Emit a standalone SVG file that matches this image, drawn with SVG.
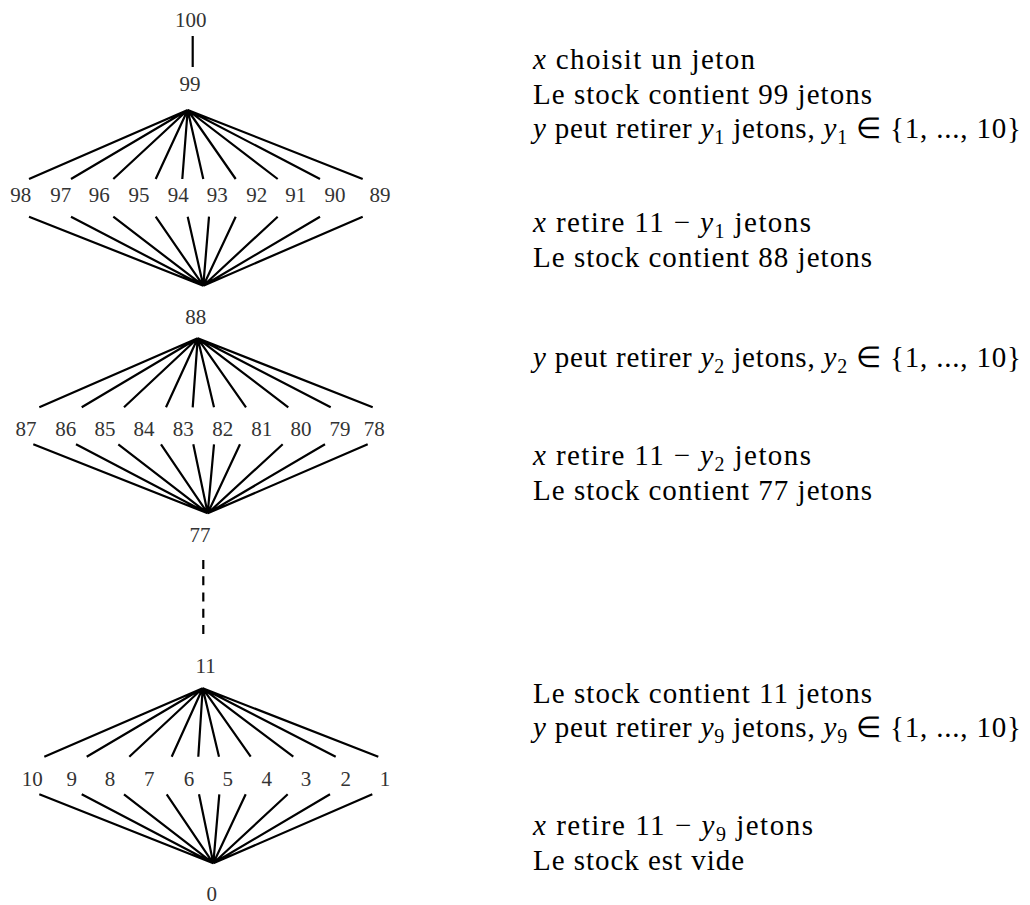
<svg xmlns="http://www.w3.org/2000/svg" width="1030" height="905" viewBox="0 0 1030 905">
<style>
.lbl{font-size:21px;fill:#333;text-anchor:middle}
.txt{font-size:29px;fill:#000}
.it{font-style:italic}
.e{stroke:#000;stroke-width:2.2;fill:none;stroke-linecap:butt}
.d{stroke-dasharray:9 7.25}
</style>
<rect width="1030" height="905" fill="#fff"/>
<g id="connectors" class="e">
<line x1="192.7" y1="36" x2="192.7" y2="67"/>
<path d="M187.7 110L29 179M187.7 110L71 179M187.7 110L113.3 179M187.7 110L155.7 179M187.7 110L182.3 179M187.7 110L203.3 179M187.7 110L235.7 179M187.7 110L277.7 179M187.7 110L320 179M187.7 110L362.7 179"/>
<path d="M29 216.7L203.3 285.7M71 216.7L203.3 285.7M113.3 216.7L203.3 285.7M155.7 216.7L203.3 285.7M187.7 216.7L203.3 285.7M209 216.7L203.3 285.7M235.7 216.7L203.3 285.7M277.7 216.7L203.3 285.7M320 216.7L203.3 285.7M362.7 216.7L203.3 285.7"/>
<path d="M197.7 338.3L39.3 407.3M197.7 338.3L81.7 407.3M197.7 338.3L124 407.3M197.7 338.3L166 407.3M197.7 338.3L192.7 407.3M197.7 338.3L214 407.3M197.7 338.3L246 407.3M197.7 338.3L288.3 407.3M197.7 338.3L330.7 407.3M197.7 338.3L372.7 407.3"/>
<path d="M33.3 444.3L207.7 513.3M76 444.3L207.7 513.3M118.3 444.3L207.7 513.3M161 444.3L207.7 513.3M193.3 444.3L207.7 513.3M214 444.3L207.7 513.3M240 444.3L207.7 513.3M282.7 444.3L207.7 513.3M325 444.3L207.7 513.3M367.7 444.3L207.7 513.3"/>
<line class="d" x1="203.3" y1="560" x2="203.3" y2="634"/>
<path d="M202.7 688.3L44.3 756.7M202.7 688.3L86.7 756.7M202.7 688.3L129.3 756.7M202.7 688.3L171.7 756.7M202.7 688.3L198.3 756.7M202.7 688.3L219 756.7M202.7 688.3L250.7 756.7M202.7 688.3L293.3 756.7M202.7 688.3L335.7 756.7M202.7 688.3L378.3 756.7"/>
<path d="M39.3 794.3L213.3 863.3M81.7 794.3L213.3 863.3M124 794.3L213.3 863.3M166.7 794.3L213.3 863.3M199 794.3L213.3 863.3M219.3 794.3L213.3 863.3M245.7 794.3L213.3 863.3M287.7 794.3L213.3 863.3M330 794.3L213.3 863.3M372.3 794.3L213.3 863.3"/>
</g>
<g class="lbl" font-family="Liberation Serif, Times New Roman, serif">
<g id="n100"><text x="190.7" y="27">100</text></g>
<g id="n99"><text x="190" y="91">99</text></g>
<g id="n98"><text x="20.7" y="202">98</text></g>
<g id="n97"><text x="60.7" y="202">97</text></g>
<g id="n96"><text x="99.3" y="202">96</text></g>
<g id="n95"><text x="139" y="202">95</text></g>
<g id="n94"><text x="178.3" y="202">94</text></g>
<g id="n93"><text x="217.3" y="202">93</text></g>
<g id="n92"><text x="256.7" y="202">92</text></g>
<g id="n91"><text x="295.7" y="202">91</text></g>
<g id="n90"><text x="335" y="202">90</text></g>
<g id="n89"><text x="380" y="202">89</text></g>
<g id="n88"><text x="195.7" y="324">88</text></g>
<g id="n87"><text x="26" y="435.7">87</text></g>
<g id="n86"><text x="65.7" y="435.7">86</text></g>
<g id="n85"><text x="105" y="435.7">85</text></g>
<g id="n84"><text x="144" y="435.7">84</text></g>
<g id="n83"><text x="183.3" y="435.7">83</text></g>
<g id="n82"><text x="222.7" y="435.7">82</text></g>
<g id="n81"><text x="261.7" y="435.7">81</text></g>
<g id="n80"><text x="301" y="435.7">80</text></g>
<g id="n79"><text x="340" y="435.7">79</text></g>
<g id="n78"><text x="374.3" y="435.7">78</text></g>
<g id="n77"><text x="200" y="541.7">77</text></g>
<g id="n11"><text x="205.7" y="673.3">11</text></g>
<g id="n10"><text x="32.3" y="785.7">10</text></g>
<g id="n9"><text x="71.7" y="785.7">9</text></g>
<g id="n8"><text x="110" y="785.7">8</text></g>
<g id="n7"><text x="149.3" y="785.7">7</text></g>
<g id="n6"><text x="189" y="785.7">6</text></g>
<g id="n5"><text x="227.7" y="785.7">5</text></g>
<g id="n4"><text x="266.7" y="785.7">4</text></g>
<g id="n3"><text x="306" y="785.7">3</text></g>
<g id="n2"><text x="345.7" y="785.7">2</text></g>
<g id="n1"><text x="385" y="785.7">1</text></g>
<g id="n0"><text x="211.7" y="900.7">0</text></g>
</g>
<g class="txt" font-family="Liberation Serif, Times New Roman, serif">
<g id="t1">
<text x="533" y="69" textLength="222" lengthAdjust="spacing"><tspan class="it">x</tspan> choisit un jeton</text>
<text x="533" y="104" textLength="339" lengthAdjust="spacing">Le stock contient 99 jetons</text>
<text x="533" y="138" textLength="488" lengthAdjust="spacing"><tspan class="it">y</tspan> peut retirer <tspan class="it">y</tspan><tspan font-size="20" dy="6">1</tspan><tspan dy="-6"> jetons, </tspan><tspan class="it">y</tspan><tspan font-size="20" dy="6">1</tspan><tspan dy="-6"> ∈ {1, ..., 10}</tspan></text>
</g>
<g id="t2">
<text x="533" y="232" textLength="278" lengthAdjust="spacing"><tspan class="it">x</tspan> retire 11 − <tspan class="it">y</tspan><tspan font-size="20" dy="6">1</tspan><tspan dy="-6"> jetons</tspan></text>
<text x="533" y="267" textLength="339" lengthAdjust="spacing">Le stock contient 88 jetons</text>
</g>
<g id="t3">
<text x="533" y="367" textLength="488" lengthAdjust="spacing"><tspan class="it">y</tspan> peut retirer <tspan class="it">y</tspan><tspan font-size="20" dy="6">2</tspan><tspan dy="-6"> jetons, </tspan><tspan class="it">y</tspan><tspan font-size="20" dy="6">2</tspan><tspan dy="-6"> ∈ {1, ..., 10}</tspan></text>
</g>
<g id="t4">
<text x="533" y="465" textLength="278" lengthAdjust="spacing"><tspan class="it">x</tspan> retire 11 − <tspan class="it">y</tspan><tspan font-size="20" dy="6">2</tspan><tspan dy="-6"> jetons</tspan></text>
<text x="533" y="500" textLength="339" lengthAdjust="spacing">Le stock contient 77 jetons</text>
</g>
<g id="t5">
<text x="533" y="703" textLength="339" lengthAdjust="spacing">Le stock contient 11 jetons</text>
<text x="533" y="737" textLength="488" lengthAdjust="spacing"><tspan class="it">y</tspan> peut retirer <tspan class="it">y</tspan><tspan font-size="20" dy="6">9</tspan><tspan dy="-6"> jetons, </tspan><tspan class="it">y</tspan><tspan font-size="20" dy="6">9</tspan><tspan dy="-6"> ∈ {1, ..., 10}</tspan></text>
</g>
<g id="t6">
<text x="533" y="835" textLength="280" lengthAdjust="spacing"><tspan class="it">x</tspan> retire 11 − <tspan class="it">y</tspan><tspan font-size="20" dy="6">9</tspan><tspan dy="-6"> jetons</tspan></text>
<text x="533" y="870" textLength="211" lengthAdjust="spacing">Le stock est vide</text>
</g>
</g>
</svg>
